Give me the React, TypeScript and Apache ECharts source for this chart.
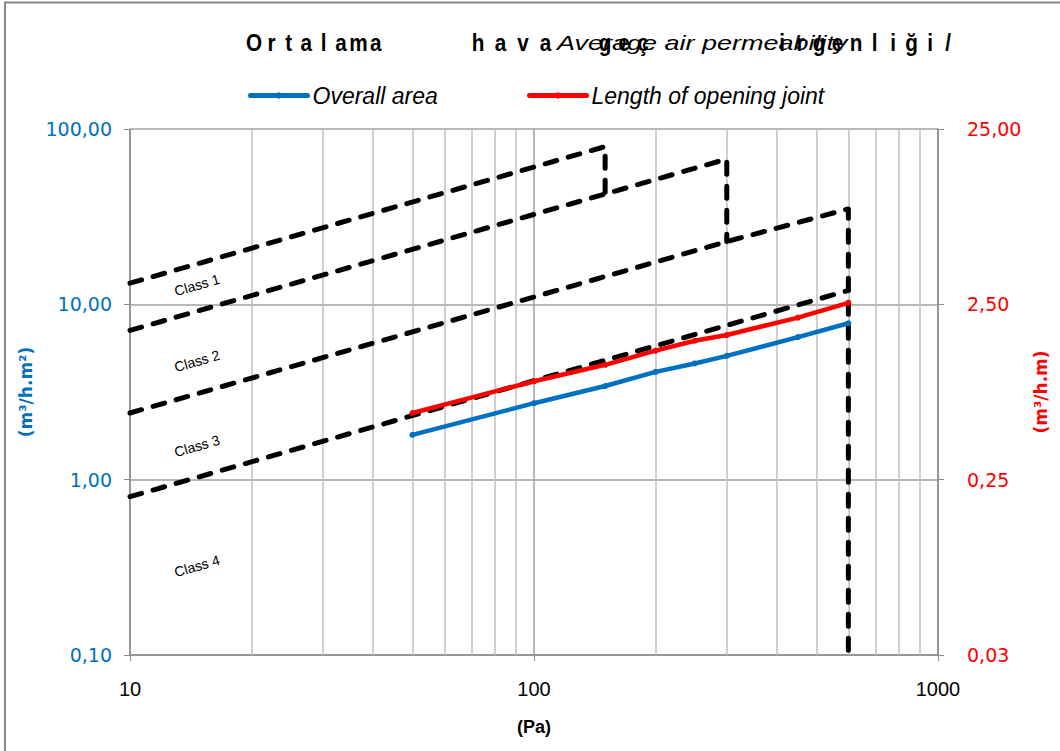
import React, { useEffect, useRef } from "react";
import * as echarts from "echarts";

// ---- data ----
const pressures = [50, 100, 150, 200, 250, 300, 450, 600];
const overallArea = [1.8, 2.73, 3.42, 4.12, 4.6, 5.08, 6.5, 7.8];
const openingJoint = [0.6, 0.91, 1.13, 1.36, 1.55, 1.67, 2.1, 2.55];

const class1Limit = [[10, 13.2], [150, 79.4], [150, 42.7]];
const class2Limit = [[10, 7.1], [300, 67.4], [300, 22.8]];
const class3Limit = [[10, 2.4], [300, 22.8], [600, 35.0], [600, 0.1]];
const class4Limit = [[10, 0.8], [600, 12.0]];

const minorGridX = [20, 30, 40, 50, 60, 70, 80, 90, 200, 300, 400, 500, 600, 700, 800, 900];
const classLabels = ["Class 1", "Class 2", "Class 3", "Class 4"];
const seriesNames = ["Overall area", "Length of opening joint"];
const titleWords = ["Ortalama", "hava", "geç", "irgenliği", "/"];
const titleItalic = "Average air permeability";

// ---- layout / style ----
const NARROW = "'Liberation Sans Narrow', 'Arial Narrow', 'Liberation Sans', sans-serif";
const WIDE = "'DejaVu Sans', Verdana, sans-serif";
const BLUE = "#0070C0";
const RED = "#FF0000";
const titleLayout = [
  { start: 254, step: 17.4 },
  { start: 478, step: 22.5 },
  { start: 605, step: 19 },
  { start: 782, step: 18.5 },
  { start: 948, step: 0 },
];
const classLabelPos = [
  [197, 285],
  [197, 361],
  [197, 446],
  [197, 566],
];

const dashed = {
  color: "#000",
  width: 5,
  type: [12, 12] as any,
  cap: "round" as const,
  join: "round" as const,
};

export default function App() {
  const ref = useRef<HTMLDivElement>(null);
  useEffect(() => {
    document.body.style.margin = "0";
    const chart = echarts.init(ref.current!, undefined, { renderer: "svg" });

    const titleEls: any[] = [];
    titleWords.forEach((w, wi) => {
      Array.from(w).forEach((ch, ci) => {
        titleEls.push({
          type: "text",
          x: titleLayout[wi].start + ci * titleLayout[wi].step,
          y: 43,
          z: 10,
          scaleX: 0.9,
          style: {
            text: ch,
            font: `bold 23px ${NARROW}`,
            fill: "#000",
            textAlign: "center",
            align: "center",
            textVerticalAlign: "middle",
            verticalAlign: "middle",
          },
        });
      });
    });
    titleEls.push({
      type: "text",
      x: 557,
      y: 43,
      z: 11,
      scaleX: 1.35,
      style: {
        text: titleItalic,
        font: `italic 20px ${NARROW}`,
        fill: "#000",
        textAlign: "left",
        align: "left",
        textVerticalAlign: "middle",
        verticalAlign: "middle",
      },
    });

    const classEls = classLabels.map((t, i) => ({
      type: "text",
      x: classLabelPos[i][0],
      y: classLabelPos[i][1],
      rotation: 0.28,
      z: 10,
      style: {
        text: t,
        font: `14px ${NARROW}`,
        fill: "#000",
        textAlign: "center",
        align: "center",
        textVerticalAlign: "middle",
        verticalAlign: "middle",
      },
    }));

    const legendBase = {
      top: 84,
      padding: 0,
      itemWidth: 57,
      itemHeight: 8,
      itemGap: 5,
      lineStyle: { width: 5 },
      textStyle: { fontStyle: "italic", fontSize: 23, fontFamily: NARROW, color: "#000" },
    };

    const option: any = {
      animation: false,
      backgroundColor: "#fff",
      grid: { left: 130, right: 122, top: 129, bottom: 96, containLabel: false },
      legend: [
        { ...legendBase, data: [seriesNames[0]], left: 248 },
        { ...legendBase, data: [seriesNames[1]], left: 527 },
      ],
      xAxis: {
        type: "log",
        logBase: 10,
        min: 10,
        max: 1000,
        axisLine: { show: true, lineStyle: { color: "#8c8c8c", width: 1.5 } },
        axisTick: { show: true, length: 6, lineStyle: { color: "#8c8c8c" } },
        axisLabel: {
          fontSize: 20,
          color: "#000",
          margin: 24,
          fontFamily: NARROW,
          formatter: (v: number) => String(Math.round(v)),
        },
        splitLine: { show: true, lineStyle: { color: "#a0a0a0", width: 1.5 } },
        minorTick: { show: false },
        name: "(Pa)",
        nameLocation: "middle",
        nameGap: 63,
        nameTextStyle: { fontSize: 18, fontWeight: "bold", color: "#000", fontFamily: NARROW },
      },
      yAxis: [
        {
          type: "log",
          logBase: 10,
          min: 0.1,
          max: 100,
          position: "left",
          axisLine: { show: true, lineStyle: { color: "#8c8c8c", width: 1.5 } },
          axisTick: { show: true, length: 6, lineStyle: { color: "#8c8c8c" } },
          axisLabel: {
            fontSize: 19,
            color: BLUE,
            margin: 18,
            fontFamily: WIDE,
            formatter: (v: number) => v.toFixed(2).replace(".", ","),
          },
          splitLine: { show: true, lineStyle: { color: "#a0a0a0", width: 1.5 } },
          name: "(m³/h.m²)",
          nameLocation: "middle",
          nameRotate: 90,
          nameGap: 86,
          nameTextStyle: { fontSize: 17, fontWeight: "bold", color: BLUE, fontFamily: WIDE },
        },
        {
          type: "log",
          logBase: 10,
          min: 0.025,
          max: 25,
          position: "right",
          show: false,
          splitLine: { show: false },
        },
        {
          type: "log",
          logBase: 10,
          min: 0.1,
          max: 100,
          position: "right",
          axisLine: { show: true, lineStyle: { color: "#8c8c8c", width: 1.5 } },
          axisTick: { show: true, length: 6, lineStyle: { color: "#8c8c8c" } },
          axisLabel: {
            fontSize: 19,
            color: RED,
            margin: 29,
            fontFamily: WIDE,
            formatter: (v: number) => {
              const r = Math.round((v / 4) * 100 + 1e-9) / 100;
              return r.toFixed(2).replace(".", ",");
            },
          },
          splitLine: { show: false },
          name: "(m³/h.m)",
          nameLocation: "middle",
          nameRotate: 90,
          nameGap: 74,
          nameTextStyle: { fontSize: 17, fontWeight: "bold", color: RED, fontFamily: WIDE },
        },
      ],
      graphic: [
        {
          type: "rect",
          shape: { x: 5, y: 2.5, width: 1100, height: 800 },
          style: { fill: "none", stroke: "#8a8a8a", lineWidth: 2 },
          z: 0,
          silent: true,
        },
        ...titleEls,
        ...classEls,
      ],
      series: [
        {
          name: "minor-grid",
          type: "line",
          data: [],
          z: 1,
          silent: true,
          markLine: {
            silent: true,
            z: 1,
            symbol: ["none", "none"],
            label: { show: false },
            lineStyle: { color: "#c0c0c0", type: "solid", width: 1.5 },
            data: minorGridX.map((v) => ({ xAxis: v })),
          },
        },
        ...[class1Limit, class2Limit, class3Limit, class4Limit].map((d, i) => ({
          name: `limit${i + 1}`,
          type: "line",
          data: d,
          showSymbol: false,
          symbol: "none",
          lineStyle: dashed,
          z: 6,
          silent: true,
        })),
        {
          name: seriesNames[0],
          type: "line",
          yAxisIndex: 0,
          data: pressures.map((p, i) => [p, overallArea[i]]),
          symbol: "circle",
          symbolSize: 6,
          showSymbol: true,
          itemStyle: { color: BLUE },
          lineStyle: { color: BLUE, width: 4.5, cap: "round" },
          z: 8,
        },
        {
          name: seriesNames[1],
          type: "line",
          yAxisIndex: 1,
          data: pressures.map((p, i) => [p, openingJoint[i]]),
          symbol: "circle",
          symbolSize: 6,
          showSymbol: true,
          itemStyle: { color: RED },
          lineStyle: { color: RED, width: 4.5, cap: "round" },
          z: 8,
        },
      ],
    };
    chart.setOption(option);
    return () => chart.dispose();
  }, []);
  return <div ref={ref} style={{ width: 1060, height: 751 }} />;
}
